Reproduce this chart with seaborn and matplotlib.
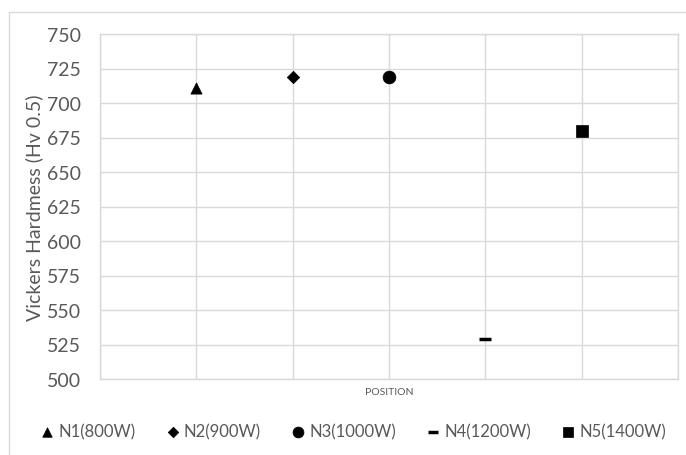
import matplotlib
matplotlib.use('Agg')
import matplotlib.pyplot as plt
import seaborn as sns
import pandas as pd
from matplotlib.lines import Line2D

# data
samples = ["N1(800W)", "N2(900W)", "N3(1000W)", "N4(1200W)", "N5(1400W)"]
positions = [1, 2, 3, 4, 5]
hardness = [711, 719, 719, 529, 680]
marker_list = ["^", "D", "o", "_", "s"]
marker_sizes = [65, 40, 85, 80, 70]

sns.set_theme(style="white")
plt.rcParams['font.family'] = ['Lato', 'DejaVu Sans']

fig = plt.figure(figsize=(6.86, 4.56), dpi=100)
ax = fig.add_axes([100 / 686, 76 / 456, 578 / 686, 345 / 456])

# outer chart border (top and left only visible)
fig.lines.append(Line2D([9 / 686, 9 / 686], [0, 1 - 13 / 456], transform=fig.transFigure,
                        color="#d9d9d9", linewidth=1.0))
fig.lines.append(Line2D([9 / 686, 1], [1 - 13 / 456, 1 - 13 / 456], transform=fig.transFigure,
                        color="#d9d9d9", linewidth=1.0))

df = pd.DataFrame({"sample": samples, "pos": positions, "hv": hardness})
for i, row in df.iterrows():
  sns.scatterplot(x=[row["pos"]], y=[row["hv"]], marker=marker_list[i], s=marker_sizes[i],
                  color="black", edgecolor="black", linewidth=2.5 if marker_list[i] == "_" else 0.5,
                  label=row["sample"], ax=ax, zorder=3)

ax.set_xlim(0, 6)
ax.set_ylim(500, 750)
ax.set_xticks(range(0, 7))
ax.set_xticklabels([])
ax.set_yticks(range(500, 751, 25))
ax.tick_params(axis="y", labelsize=14, labelcolor="#595959", length=0, pad=14)
ax.tick_params(axis="x", length=0)
ax.grid(True, color="#d9d9d9", linewidth=1.0)
for sp in ax.spines.values():
  sp.set_color("#d9d9d9")
  sp.set_linewidth(1.0)

ax.set_ylabel("Vickers Hardmess (Hv 0.5)", fontsize=14, color="#595959", labelpad=2)
ax.set_xlabel("POSITION", fontsize=7.5, color="#595959", labelpad=2)

ax.legend(loc="center", bbox_to_anchor=(0.5 - 35 / 578, -52 / 345), ncol=5, frameon=False,
          fontsize=12, labelcolor="#595959", handlelength=0.65, handletextpad=0.35,
          columnspacing=1.9, markerscale=0.85, borderpad=0, borderaxespad=0)

fig.savefig("out.png", dpi=100)
